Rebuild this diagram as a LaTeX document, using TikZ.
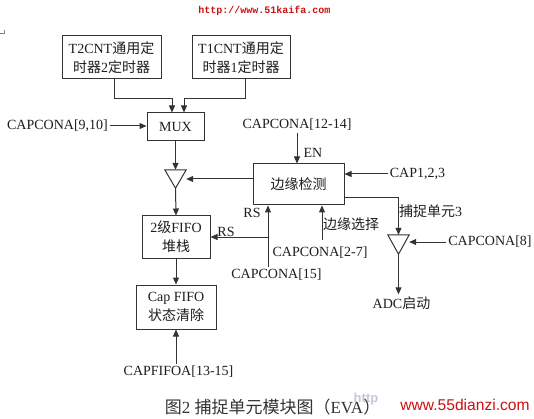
\documentclass[tikz,border=0pt]{standalone}
\usepackage{fontspec}
\setmainfont{Liberation Serif}
\newfontfamily\cjk{Noto Sans CJK SC}
\newfontfamily\wmono{Liberation Mono}
\newfontfamily\wsans{Liberation Sans}
\usetikzlibrary{arrows.meta}
\definecolor{ln}{HTML}{333333}
\definecolor{tx}{HTML}{1E1E1E}
\definecolor{wm}{HTML}{CC1111}
\definecolor{wmb}{HTML}{9AA6C8}
\begin{document}
\begin{tikzpicture}[x=1pt,y=-1pt,
 box/.style={draw=ln,line width=1pt,inner sep=0pt,align=center,text=tx,font=\fontsize{14}{19}\selectfont},
 lbl/.style={inner sep=2pt,text=tx,font=\fontsize{14}{17}\selectfont},
 arr/.style={draw=ln,line width=1pt,-{Triangle[length=7pt,width=6pt]}},
 wire/.style={draw=ln,line width=1pt},
 buf/.style={inner sep=0pt,minimum width=21pt,minimum height=18pt}]
\useasboundingbox[fill=white] (0,0) rectangle (534,419);

% watermarks and corner mark
\node[inner sep=0pt,text=wm,font=\wmono\bfseries\fontsize{10}{12}\selectfont] (wm1) at (264.5,11) {http://www.51kaifa.com};
\draw[gray,line width=0.6pt] (0,33) -- (4,33) -- (4,30);

% boxes
\node[box,minimum width=99pt,minimum height=43pt] (t2) at (111.5,57.5) {T2CNT{\cjk 通用定}\\{\cjk 时器}2{\cjk 定时器}};
\node[box,minimum width=98pt,minimum height=43pt] (t1) at (241,57.5) {T1CNT{\cjk 通用定}\\{\cjk 时器}1{\cjk 定时器}};
\node[box,minimum width=57pt,minimum height=28pt] (mux) at (175.5,127) {MUX};
\node[box,minimum width=91pt,minimum height=41pt] (edge) at (298.5,184.5) {\cjk 边缘检测};
\node[box,minimum width=68pt,minimum height=42pt] (fifo) at (176,237) {2{\cjk 级}FIFO\\{\cjk 堆栈}};
\node[box,minimum width=80pt,minimum height=44pt] (capfifo) at (176,307) {Cap FIFO\\{\cjk 状态清除}};

% buffers
\node[buf] (b1) at (175.5,179) {};
\draw[wire] (b1.north west) -- (b1.north east) -- (b1.south) -- cycle;
\node[buf,minimum height=19pt] (b2) at (398.5,244.5) {};
\draw[wire] (b2.north west) -- (b2.north east) -- (b2.south) -- cycle;

% labels
\node[lbl] (c910) at (57.5,126) {CAPCONA[9,10]};
\node[lbl] (c1214) at (297,125) {CAPCONA[12-14]};
\node[lbl,inner sep=0pt] (en) at (313,153) {EN};
\node[lbl] (cap) at (417.5,174) {CAP1,2,3};
\node[lbl] (c8) at (490,242) {CAPCONA[8]};
\node[lbl] (adc) at (401.5,303) {ADC{\cjk 启动}};
\node[lbl] (c15) at (276.5,275) {CAPCONA[15]};
\node[lbl] (c27) at (320,253) {CAPCONA[2-7]};
\node[lbl] (cfa) at (178.5,372) {CAPFIFOA[13-15]};
\node[lbl,inner sep=0pt] (rs1) at (252,213) {RS};
\node[lbl,inner sep=0pt] (rs2) at (226,232) {RS};
\node[lbl,inner sep=0pt,anchor=west] (esl) at (323,224) {\cjk 边缘选择};
\node[lbl,inner sep=0pt,anchor=west] (cu3) at (399,211) {{\cjk 捕捉单元}3};

% connectors
\coordinate (j1) at (172,99);
\coordinate (j2) at (184,99);
\draw[arr] ([xshift=2.5pt]t2.south) |- (j1) -- (j1 |- mux.north);
\draw[arr] ([xshift=4pt]t1.south) |- (j2) -- (j2 |- mux.north);
\draw[arr] (c910.east) -- (c910.east -| mux.west);
\draw[arr] (mux.south) -- (b1.north);
\draw[arr] (c1214.south) -- (c1214.south |- edge.north);
\draw[arr] (edge.west |- b1.east) -- (b1.east);
\draw[arr] (b1.south) -- (fifo.north);
\draw[arr] (cap.west) -- (cap.west -| edge.east);
\draw[arr] ([yshift=-13.5pt]edge.east) -| (b2.north);
\draw[arr] (c8.west) -- (c8.west -| b2.east);
\draw[arr] (b2.south) -- (b2.south |- adc.north);
\coordinate (rsb) at (268,267);
\draw[arr] (rsb) -- (rsb |- edge.south);
\draw[arr] (rsb |- fifo.east) -- (fifo.east);
\coordinate (esb) at (322,240);
\draw[arr] (esb) -- (esb |- edge.south);
\draw[arr] (fifo.south) -- (capfifo.north);
\draw[arr] (capfifo.south |- cfa.north) -- (capfifo.south);

% caption
\node[inner sep=0pt,text=ln,font=\fontsize{17}{19}\selectfont] (capt) at (272.5,407) {{\cjk 图}2 {\cjk 捕捉单元模块图（}EVA{\cjk ）}};
\node[inner sep=0pt,text=wmb,font=\wsans\bfseries\fontsize{13}{15}\selectfont,opacity=0.6] (wm3) at (366,399) {http};
\node[inner sep=0pt,text=wm,font=\wsans\fontsize{15.6}{18}\selectfont] (wm2) at (465,405) {www.55dianzi.com};
\end{tikzpicture}
\end{document}
